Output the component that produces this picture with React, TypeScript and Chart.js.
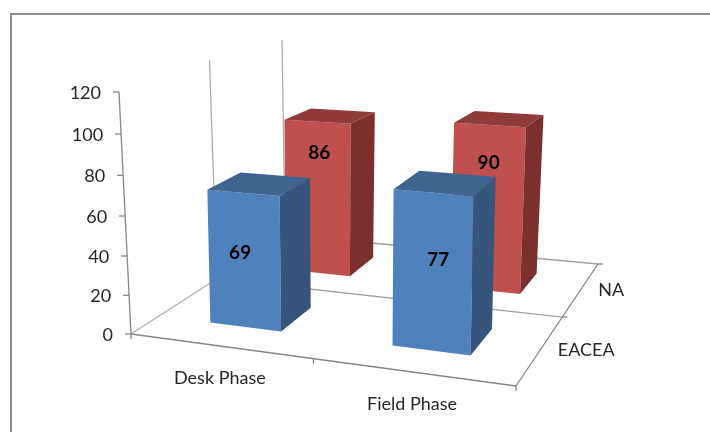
import React, { useEffect, useRef } from "react";
import { Chart, registerables } from "chart.js";

Chart.register(...registerables);

// Chart values
const phases = ["Desk Phase", "Field Phase"];
const depthNames = ["EACEA", "NA"];
const eaceaValues = [69, 77];
const naValues = [86, 90];
const axisMax = 120;
const axisStep = 20;

// Colours: [front, side, top] per series
const faceColours = [
  ["#4f81bd", "#35557c", "#3f6490"],
  ["#c0504d", "#7b302e", "#8f3b39"],
];

// Floor of the 3D box, corners in canvas pixels: [u, v] = [0,0], [1,0], [1,1], [0,1]
const floorQuad = [
  [131, 334],
  [516, 386],
  [598, 264],
  [285, 235],
];
// Correction to the spacing along the category direction
const floorCurve = 0.03;
// Vertical rise at full scale for each floor corner: [lean, height], order as floorQuad
const barRise = [
  [-8.5, 239],
  [5.5, 265],
  [12.5, 208],
  [-1.5, 193],
];
const wallRise = [
  [-12, 242],
  [-12, 242],
  [-3, 195],
  [-3, 195],
];
// Foreshortening of the vertical axis
const heightCurve = 0.05;
// Value label placement per series and phase: share of bar height, and x shift
const labelRise = [
  [0.56, 0.58],
  [0.8, 0.78],
];
const labelShift = [
  [-4, 6],
  [2, 0],
];

const FONT = "Lato, Carlito, sans-serif";
const TEXT = "#262626";
const AXIS = "#868686";
const WALL = "#adadad";

function makeFloorMap() {
  const [[x0, y0], [x1, y1], [x2, y2], [x3, y3]] = floorQuad;
  const dx1 = x1 - x2, dx2 = x3 - x2, sx = x0 - x1 + x2 - x3;
  const dy1 = y1 - y2, dy2 = y3 - y2, sy = y0 - y1 + y2 - y3;
  const den = dx1 * dy2 - dx2 * dy1;
  const g = (sx * dy2 - dx2 * sy) / den;
  const h = (dx1 * sy - sx * dy1) / den;
  const a = x1 - x0 + g * x1, b = x3 - x0 + h * x3;
  const d = y1 - y0 + g * y1, e = y3 - y0 + h * y3;
  return (u0: number, v: number): [number, number] => {
    const u = u0 + floorCurve * u0 * (1 - u0);
    const q = g * u + h * v + 1;
    return [(a * u + b * v + x0) / q, (d * u + e * v + y0) / q];
  };
}
const floorAt = makeFloorMap();

function project(u: number, v: number, w: number, rise: number[][]): [number, number] {
  const [fx, fy] = floorAt(u, v);
  const mix = (k: number) =>
    (1 - u) * (1 - v) * rise[0][k] + u * (1 - v) * rise[1][k] + u * v * rise[2][k] + (1 - u) * v * rise[3][k];
  const t = w - heightCurve * w * (1 - w);
  return [fx + mix(0) * t, fy - mix(1) * t];
}

function poly(ctx: CanvasRenderingContext2D, pts: [number, number][], fill: string) {
  ctx.beginPath();
  pts.forEach(([x, y], i) => (i ? ctx.lineTo(x, y) : ctx.moveTo(x, y)));
  ctx.closePath();
  ctx.fillStyle = fill;
  ctx.fill();
}

function line(ctx: CanvasRenderingContext2D, a: number[], b: number[], colour: string, width = 1.3) {
  ctx.beginPath();
  ctx.moveTo(a[0], a[1]);
  ctx.lineTo(b[0], b[1]);
  ctx.strokeStyle = colour;
  ctx.lineWidth = width;
  ctx.stroke();
}

function text(ctx: CanvasRenderingContext2D, s: string, x: number, y: number, align: CanvasTextAlign, font: string, colour: string) {
  ctx.font = font;
  ctx.fillStyle = colour;
  ctx.textAlign = align;
  ctx.textBaseline = "middle";
  ctx.fillText(s, x, y);
}

const box3d = {
  id: "box3d",
  beforeDatasetsDraw(chart: any) {
    const ctx: CanvasRenderingContext2D = chart.ctx;
    const area = chart.chartArea;
    const yScale = chart.scales.y;
    const plotW = area.right - area.left;
    const plotH = area.bottom - area.top;
    ctx.save();

    // Outer frame, open on the right and at the bottom
    ctx.fillStyle = "#8c8c8c";
    ctx.fillRect(10, 13, 700, 2);
    ctx.fillRect(10, 13, 2, 419);

    // Side wall verticals
    [0.5, 1].forEach((v) => line(ctx, project(0, v, 0, wallRise), project(0, v, 1, wallRise), WALL));

    // Floor lines running back and across
    line(ctx, floorAt(0, 0), floorAt(0, 1), WALL);
    line(ctx, floorAt(0, 0.5), floorAt(1, 0.5), "#a0a0a0");
    line(ctx, floorAt(0, 1), floorAt(1, 1), "#a0a0a0");

    // Front and right axes with their ticks
    line(ctx, floorAt(0, 0), floorAt(1, 0), AXIS);
    line(ctx, floorAt(1, 0), floorAt(1, 1), AXIS);
    [0, 0.5, 1].forEach((u) => {
      const [x, y] = floorAt(u, 0);
      line(ctx, [x, y], [x, y + 5], AXIS);
    });
    [0.5, 1].forEach((v) => {
      const [x, y] = floorAt(1, v);
      line(ctx, [x, y], [x + 5, y], AXIS);
    });

    // Value axis
    line(ctx, project(0, 0, 0, wallRise), project(0, 0, 1, wallRise), AXIS);
    yScale.ticks.forEach((tick: any) => {
      const w = (area.bottom - yScale.getPixelForValue(tick.value)) / plotH;
      const [x, y] = project(0, 0, w, wallRise);
      line(ctx, [x - 6, y], [x, y], AXIS);
      text(ctx, String(tick.value), x - 18, y + 1, "right", `18px ${FONT}`, TEXT);
    });

    // Phase and series names
    phases.forEach((name, i) => {
      const [x, y] = floorAt((i + 0.5) / phases.length, 0);
      text(ctx, name, x, y + 32, "center", `18px ${FONT}`, TEXT);
    });
    depthNames.forEach((name, i) => {
      const [x, y] = floorAt(1, (i + 0.5) / depthNames.length);
      text(ctx, name, x + 17, y + 1, "left", `18px ${FONT}`, TEXT);
    });

    // Bars, rear series first so the front row covers it
    const labels: (() => void)[] = [];
    for (let s = chart.data.datasets.length - 1; s >= 0; s--) {
      const [front, side, top] = faceColours[s];
      chart.getDatasetMeta(s).data.forEach((el: any, i: number) => {
        const u = (el.x - area.left) / plotW;
        const half = el.width / plotW / 2;
        const v = (s + 0.5) / chart.data.datasets.length;
        const w = (el.base - el.y) / plotH;
        const [u0, u1, v0, v1] = [u - half, u + half, v - half, v + half];
        const P = (a: number, b: number, c: number) => project(a, b, c, barRise);
        poly(ctx, [P(u0, v0, 0), P(u1, v0, 0), P(u1, v0, w), P(u0, v0, w)], front);
        poly(ctx, [P(u1, v0, 0), P(u1, v1, 0), P(u1, v1, w), P(u1, v0, w)], side);
        poly(ctx, [P(u0, v0, w), P(u1, v0, w), P(u1, v1, w), P(u0, v1, w)], top);
        const [lx, ly] = P(u, v0, w * labelRise[s][i]);
        const value = chart.data.datasets[s].data[i];
        labels.push(() => text(ctx, String(value), lx + labelShift[s][i], ly, "center", `bold 19px ${FONT}`, "#000000"));
      });
    }
    labels.forEach((draw) => draw());
    ctx.restore();
    return false;
  },
};

export default function App() {
  const ref = useRef<HTMLCanvasElement>(null);
  useEffect(() => {
    const chart = new Chart(ref.current as HTMLCanvasElement, {
      type: "bar",
      data: {
        labels: phases,
        datasets: [
          { label: depthNames[0], data: eaceaValues, backgroundColor: faceColours[0][0] },
          { label: depthNames[1], data: naValues, backgroundColor: faceColours[1][0] },
        ],
      },
      options: {
        responsive: false,
        animation: false,
        layout: { padding: 0 },
        datasets: { bar: { grouped: false, barPercentage: 0.4, categoryPercentage: 1 } },
        plugins: { legend: { display: false }, title: { display: false }, tooltip: { enabled: false } },
        scales: {
          x: { display: false },
          y: { display: false, min: 0, max: axisMax, ticks: { stepSize: axisStep } },
        },
      },
      plugins: [box3d],
    } as any);
    return () => chart.destroy();
  }, []);
  return (
    <div style={{ position: "fixed", left: 0, top: 0, width: 710, height: 432, background: "#ffffff" }}>
      <canvas ref={ref} width={710} height={432} style={{ display: "block" }} />
    </div>
  );
}
